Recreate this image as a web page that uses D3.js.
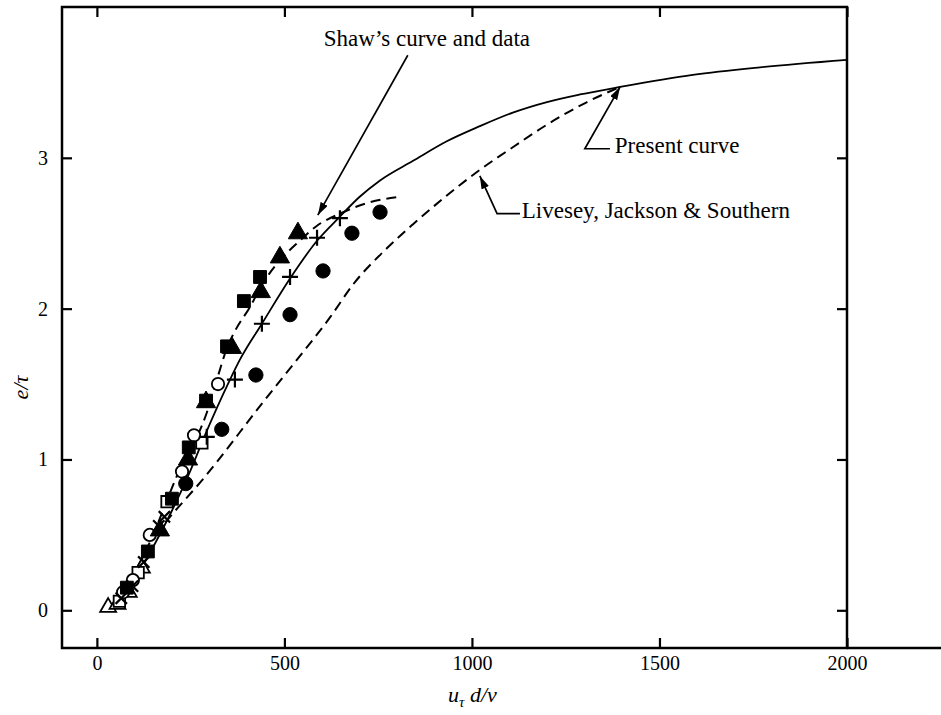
<!DOCTYPE html>
<html><head><meta charset="utf-8">
<script src="https://cdn.jsdelivr.net/npm/d3@7"></script>
<style>
body{margin:0;background:#fff;}
svg{display:block;}
text{font-family:"Liberation Serif","DejaVu Serif",serif;fill:#000;}
</style></head>
<body><svg id="chart" width="941" height="715"></svg>
<script>
// ---- data (x = u_tau d / nu, y = e / tau) ----
const xTicks = [0, 500, 1000, 1500, 2000];
const yTicks = [0, 1, 2, 3];
const presentCurve = [[45,0.02],[100,0.2],[150,0.42],[200,0.66],[250,0.93],[288,1.16],[355,1.53],[381,1.66],[440,1.90],[515,2.20],[587,2.45],[648,2.61],[700,2.74],[755,2.85],[843,2.98],[933,3.11],[1021,3.21],[1109,3.30],[1200,3.37],[1288,3.42],[1395,3.47],[1589,3.55],[1768,3.60],[2000,3.65]];
const liveseyCurve = [[155,0.50],[195,0.62],[283,0.87],[443,1.38],[533,1.66],[621,1.94],[683,2.16],[773,2.40],[843,2.56],[933,2.75],[1021,2.92],[1109,3.07],[1200,3.22],[1307,3.37],[1395,3.47]];
const shawCurve = [[40,0.03],[100,0.25],[150,0.5],[195,0.78],[229,0.98],[267,1.15],[293,1.31],[320,1.53],[347,1.74],[370,1.86],[408,2.01],[443,2.17],[488,2.32],[541,2.45],[587,2.55],[648,2.63],[720,2.70],[803,2.74]];
const filledCircles = [[237,0.84],[333,1.20],[424,1.56],[515,1.96],[603,2.25],[680,2.50],[755,2.64]];
const plusSigns = [[293,1.15],[368,1.53],[440,1.90],[515,2.21],[587,2.47],[648,2.60]];
const filledTriangles = [[168,0.53],[243,1.00],[291,1.38],[360,1.74],[437,2.11],[488,2.34],[536,2.50]];
const filledSquares = [[136,0.39],[200,0.74],[245,1.08],[291,1.39],[347,1.75],[392,2.05],[435,2.21],[80,0.15]];
const openCircles = [[96,0.20],[141,0.50],[227,0.92],[259,1.16],[323,1.50],[70,0.12]];
const openSquares = [[60,0.06],[110,0.25],[187,0.72],[280,1.11]];
const openTriangles = [[30,0.02],[55,0.04],[85,0.12],[120,0.28]];
const crosses = [[65,0.08],[95,0.16],[125,0.32],[165,0.56],[180,0.62]];
const labels = {
  shaw: "Shaw\u2019s curve and data",
  present: "Present curve",
  livesey: "Livesey, Jackson & Southern"
};

// ---- scales ----
const svg = d3.select("#chart");
const x = d3.scaleLinear().domain([-93, 2000]).range([62, 847]);
const y = d3.scaleLinear().domain([-0.25, 4.0]).range([648, 7]);
const [x0, x1] = x.range();
const [yb, yt] = y.range();

// ---- axes ----
const fontSize = 20;
const gB = svg.append("g").attr("transform", `translate(0,${yb})`)
  .call(d3.axisBottom(x).tickValues(xTicks).tickSizeInner(-10).tickSizeOuter(0).tickPadding(8).tickFormat(d3.format("d")));
const gT = svg.append("g").attr("transform", `translate(0,${yt})`)
  .call(d3.axisTop(x).tickValues(xTicks).tickSizeInner(-10).tickSizeOuter(0).tickFormat(""));
const gL = svg.append("g").attr("transform", `translate(${x0},0)`)
  .call(d3.axisLeft(y).tickValues(yTicks).tickSizeInner(-10).tickSizeOuter(0).tickPadding(14).tickFormat(d3.format("d")));
const gR = svg.append("g").attr("transform", `translate(${x1},0)`)
  .call(d3.axisRight(y).tickValues(yTicks).tickSizeInner(-10).tickSizeOuter(0).tickFormat(""));
[gB, gT, gL, gR].forEach(g => {
  g.selectAll(".domain").remove();
  g.selectAll(".tick line").attr("stroke", "#000").attr("stroke-width", 2.2);
  g.selectAll("text").attr("font-size", fontSize).attr("font-family", "Liberation Serif").attr("fill", "#000");
});
// frame
svg.append("rect").attr("x", x0).attr("y", yt).attr("width", x1 - x0).attr("height", yb - yt)
  .attr("fill", "none").attr("stroke", "#000").attr("stroke-width", 2.5);
svg.append("line").attr("x1", x1).attr("x2", 941).attr("y1", yb).attr("y2", yb)
  .attr("stroke", "#000").attr("stroke-width", 2.5);

// axis titles
const xt = svg.append("text").attr("x", (x0 + x1) / 2 + 18).attr("y", 702).attr("text-anchor", "middle")
  .attr("font-size", 22).attr("font-style", "italic");
xt.append("tspan").text("u");
xt.append("tspan").attr("font-size", 15).attr("dy", 5).text("\u03C4");
xt.append("tspan").attr("dy", -5).text(" d/\u03BD");
svg.append("text").attr("transform", `translate(28,${(yt + yb) / 2 + 60}) rotate(-90)`)
  .attr("text-anchor", "middle").attr("font-size", 22).attr("font-style", "italic").text("e/\u03C4");

// ---- curves ----
const line = d3.line().x(d => x(d[0])).y(d => y(d[1])).curve(d3.curveMonotoneX);
svg.append("path").datum(presentCurve).attr("d", line).attr("fill", "none").attr("stroke", "#000").attr("stroke-width", 1.8);
svg.append("path").datum(liveseyCurve).attr("d", line).attr("fill", "none").attr("stroke", "#000").attr("stroke-width", 2).attr("stroke-dasharray", "10,6");
svg.append("path").datum(shawCurve).attr("d", line).attr("fill", "none").attr("stroke", "#000").attr("stroke-width", 2).attr("stroke-dasharray", "10,6");

// ---- markers ----
function sym(data, type, size, filled, rot) {
  svg.append("g").selectAll("path").data(data).join("path")
    .attr("transform", d => `translate(${x(d[0])},${y(d[1])})` + (rot ? ` rotate(${rot})` : ""))
    .attr("d", d3.symbol().type(type).size(size)())
    .attr("fill", filled ? "#000" : "#fff")
    .attr("stroke", "#000").attr("stroke-width", filled ? 1 : 1.8);
}
sym(openTriangles, d3.symbolTriangle, 110, false);
sym(openSquares, d3.symbolSquare, 130, false);
sym(openCircles, d3.symbolCircle, 120, false);
sym(filledSquares, d3.symbolSquare, 165, true);
sym(filledTriangles, d3.symbolTriangle, 160, true);
sym(filledCircles, d3.symbolCircle, 160, true);
function cross(data, rot) {
  svg.append("g").selectAll("path").data(data).join("path")
    .attr("transform", d => `translate(${x(d[0])},${y(d[1])}) rotate(${rot})`)
    .attr("d", "M-8,0H8M0,-8V8").attr("fill", "none").attr("stroke", "#000").attr("stroke-width", 2.2);
}
cross(plusSigns, 0);
cross(crosses, 45);

// ---- annotations ----
const defs = svg.append("defs");
defs.append("marker").attr("id", "arr").attr("viewBox", "0 0 13 8").attr("refX", 13).attr("refY", 4)
  .attr("markerWidth", 13).attr("markerHeight", 8).attr("markerUnits", "userSpaceOnUse").attr("orient", "auto")
  .append("path").attr("d", "M0,0L13,4L0,8Z").attr("fill", "#000");
function leader(pts) {
  svg.append("path").attr("d", d3.line()(pts.map(p => [x(p[0]), y(p[1])])))
    .attr("fill", "none").attr("stroke", "#000").attr("stroke-width", 1.7).attr("marker-end", "url(#arr)");
}
const annSize = 23;
// Shaw
leader([[829, 3.68], [589, 2.62]]);
svg.append("text").attr("x", x(880)).attr("y", y(3.74)).attr("text-anchor", "middle").attr("font-size", annSize).text(labels.shaw);
// Present
leader([[1368, 3.06], [1301, 3.06], [1395, 3.47]]);
svg.append("text").attr("x", x(1381)).attr("y", y(3.03)).attr("font-size", annSize).text(labels.present);
// Livesey
leader([[1128, 2.63], [1067, 2.63], [1021, 2.88]]);
svg.append("text").attr("x", x(1133)).attr("y", y(2.60)).attr("font-size", annSize).text(labels.livesey);
</script></body></html>
